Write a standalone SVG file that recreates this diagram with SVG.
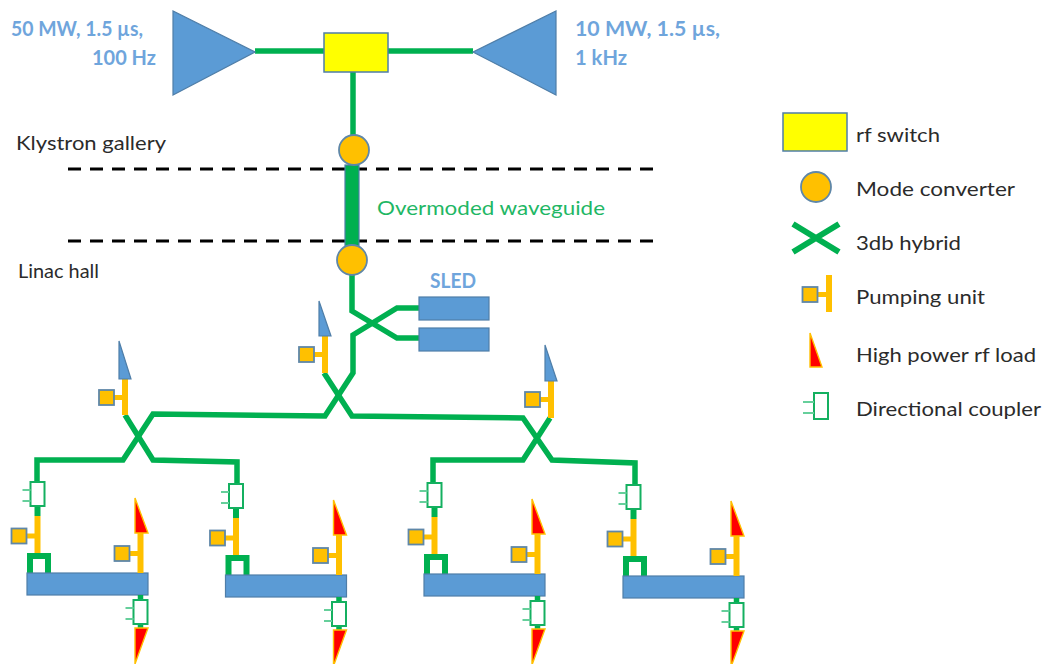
<svg xmlns="http://www.w3.org/2000/svg" xmlns:xlink="http://www.w3.org/1999/xlink" width="1049" height="664" viewBox="0 0 1049 664">
<style>
text{font-family:Lato,"Open Sans",sans-serif;font-size:20px;fill:#2b2b2b}
.blue{fill:#6fa5dc;font-weight:700}
.gt{fill:#1fb765}
.g{fill:none;stroke:#00b050;stroke-width:5.500}
.g6{fill:none;stroke:#00b050;stroke-width:6}
.y{fill:none;stroke:#ffc000;stroke-width:6}
.st{fill:none;stroke:#ffc000;stroke-width:5}
.b{fill:#5b9bd5;stroke:#4f7ea8;stroke-width:1.2}
.p{fill:#ffc000;stroke:#5f87a8;stroke-width:1.800}
.load{fill:#ff0000;stroke:#ffc000;stroke-width:1.4}
.c{fill:#fff;stroke:#14b060;stroke-width:2}
.cl{fill:none;stroke:#66cf9b;stroke-width:1.8}
.d{stroke:#000;stroke-width:3;stroke-dasharray:13 9}
</style>
<defs>
<g id="coupler"><rect class="c" x="0" y="0" width="14" height="24"/><path class="cl" d="M-8 8H0M-8 19H0"/></g>
<g id="pump"><path class="st" d="M15 7.500H26"/><rect class="p" x="0" y="0" width="15" height="15"/></g>
<g id="module">
<path class="y" d="M37.500 516V553"/>
<path class="g6" d="M37.500 506V516"/>
<use xlink:href="#coupler" x="30.500" y="482"/>
<use xlink:href="#pump" x="11.500" y="528.500"/>
<path class="g6" d="M30 573V556H48V573"/>
<rect class="b" x="27" y="573" width="121" height="22"/>
<path class="y" d="M140.500 533V573"/>
<path class="load" d="M135 498L148 533H135Z"/>
<use xlink:href="#pump" x="114.500" y="546"/>
<path class="g" d="M140.500 595V600M140.500 624V628"/>
<use xlink:href="#coupler" x="133.500" y="600"/>
<path class="load" d="M135 628H148L135 664Z"/>
</g>
</defs>
<g id="connectors">
<path class="g" d="M255 51H473"/>
<path class="g" d="M353 72V140"/>
<path class="g" d="M352 275V311L397 338H420"/>
<path class="g" d="M420 308H397L353 335V373L325 416L153 414L123 460H37V484"/>
<path class="g" d="M324 373L352 416L523 418L552 460L635 463V484"/>
<path class="g" d="M125 415L153 460L237 462V484"/>
<path class="g" d="M550 418L523 460H433V484"/>
<path class="y" d="M125 379V415M325 336V373M551 381V418"/>
</g>
<g id="source-50mw"><path class="b" d="M173 11V95L255 52Z"/></g>
<g id="source-10mw"><path class="b" d="M556 11V95L473 52Z"/></g>
<g id="rf-switch"><rect x="324" y="33" width="64" height="39" fill="#ffff00" stroke="#4f7ea8" stroke-width="1.5"/></g>
<g id="boundaries"><path class="d" d="M68 169H660M68 241H660"/></g>
<g id="waveguide"><rect x="345" y="165" width="14" height="81" fill="#00b050" stroke="#4f7ea8" stroke-width="1.2"/></g>
<g id="mode-converter-1"><circle class="p" cx="354" cy="150" r="15"/></g>
<g id="mode-converter-2"><circle class="p" cx="352" cy="260" r="15"/></g>
<g id="sled"><rect class="b" x="419" y="297" width="70" height="23"/><rect class="b" x="419" y="328" width="70" height="23"/></g>
<g id="load-1"><path class="b" d="M119 341L131 379H119Z"/><use xlink:href="#pump" x="99" y="390"/></g>
<g id="load-2"><path class="b" d="M319 301L331 336H319Z"/><use xlink:href="#pump" x="299" y="347"/></g>
<g id="load-3"><path class="b" d="M545 345L557 381H545Z"/><use xlink:href="#pump" x="525" y="392"/></g>
<g id="module-1"><use xlink:href="#module"/></g>
<g id="module-2"><use xlink:href="#module" x="198.500" y="2"/></g>
<g id="module-3"><use xlink:href="#module" x="397" y="1"/></g>
<g id="module-4"><use xlink:href="#module" x="596" y="3"/></g>
<g id="labels">
<text class="blue" x="11" y="36" textLength="132" lengthAdjust="spacingAndGlyphs">50 MW, 1.5 µs,</text>
<text class="blue" x="92" y="65" textLength="64" lengthAdjust="spacingAndGlyphs">100 Hz</text>
<text class="blue" x="575" y="36" textLength="145" lengthAdjust="spacingAndGlyphs">10 MW, 1.5 µs,</text>
<text class="blue" x="575" y="65" textLength="52" lengthAdjust="spacingAndGlyphs">1 kHz</text>
<text x="16" y="150" textLength="150" lengthAdjust="spacingAndGlyphs">Klystron gallery</text>
<text x="18" y="278" textLength="81" lengthAdjust="spacingAndGlyphs">Linac hall</text>
<text class="gt" x="377" y="215" textLength="228" lengthAdjust="spacingAndGlyphs">Overmoded waveguide</text>
<text class="blue" x="430" y="288" textLength="46" lengthAdjust="spacingAndGlyphs">SLED</text>
</g>
<g id="legend-rf-switch"><rect x="783" y="113" width="64" height="38" fill="#ffff00" stroke="#4f7ea8" stroke-width="1.5"/><text x="856" y="142" textLength="84" lengthAdjust="spacingAndGlyphs">rf switch</text></g>
<g id="legend-mode-converter"><circle class="p" cx="816" cy="187" r="15"/><text x="856" y="196" textLength="159" lengthAdjust="spacingAndGlyphs">Mode converter</text></g>
<g id="legend-hybrid"><path class="g6" d="M793 224L839 252M839 224L793 252"/><text x="856" y="250" textLength="105" lengthAdjust="spacingAndGlyphs">3db hybrid</text></g>
<g id="legend-pump"><path class="y" d="M829 275V312"/><use xlink:href="#pump" x="802.500" y="287"/><text x="856" y="304" textLength="129" lengthAdjust="spacingAndGlyphs">Pumping unit</text></g>
<g id="legend-load"><path class="load" d="M810 333L822 367H810Z"/><text x="856" y="362" textLength="180" lengthAdjust="spacingAndGlyphs">High power rf load</text></g>
<g id="legend-coupler"><rect class="c" x="814" y="393" width="14" height="26"/><path class="cl" d="M803 402H814M803 413H814"/><text x="856" y="416" textLength="185" lengthAdjust="spacingAndGlyphs">Directional coupler</text></g>
</svg>
